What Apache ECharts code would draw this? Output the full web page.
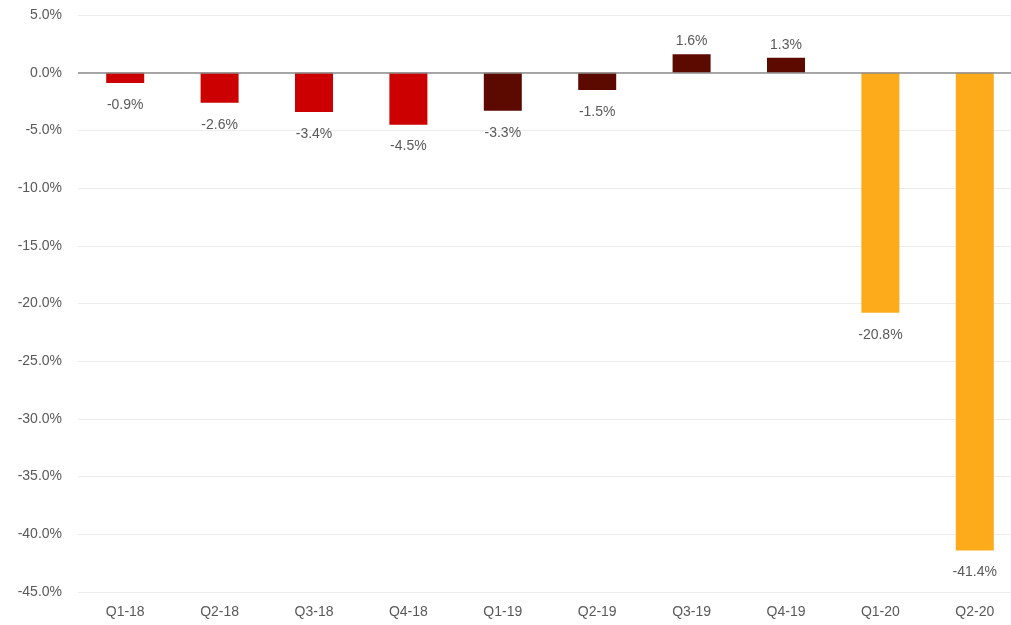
<!DOCTYPE html>
<html>
<head>
<meta charset="utf-8">
<script src="https://cdn.jsdelivr.net/npm/echarts@6/dist/echarts.min.js"></script>
<style>html,body{margin:0;padding:0;background:#fff}#c{width:1011px;height:625px}</style>
</head>
<body>
<div id="c"></div>
<script>
const categories = ['Q1-18','Q2-18','Q3-18','Q4-18','Q1-19','Q2-19','Q3-19','Q4-19','Q1-20','Q2-20'];
const values = [-0.9,-2.6,-3.4,-4.5,-3.3,-1.5,1.6,1.3,-20.8,-41.4];
const barColors = ['#cc0000','#cc0000','#cc0000','#cc0000','#5c0a00','#5c0a00','#5c0a00','#5c0a00','#fdab1a','#fdab1a'];

const chart = echarts.init(document.getElementById('c'), null, {renderer:'canvas'});
chart.setOption({
  animation:false,
  grid:{left:78, top:15, right:-11, bottom:33, containLabel:false, outerBoundsMode:'none'},
  xAxis:{
    type:'category', data:categories, position:'bottom',
    axisLine:{show:false}, axisTick:{show:false},
    axisLabel:{color:'#595959', fontSize:14, fontFamily:'Liberation Sans, Arial', margin:13}
  },
  yAxis:{
    type:'value', min:-45, max:5, interval:5,
    axisLine:{show:false}, axisTick:{show:false},
    splitLine:{lineStyle:{color:'#ececec', width:1}},
    axisLabel:{color:'#595959', fontSize:14, fontFamily:'Liberation Sans, Arial', margin:16,
      formatter:v=>v.toFixed(1)+'%'}
  },
  series:[{
    type:'bar', barWidth:38,
    data:values.map((v,i)=>({value:v, itemStyle:{color:barColors[i]},
      label:{position: v>=0?'top':'bottom', distance: v>=0?6:15}})),
    label:{show:true, color:'#595959', fontSize:14, fontFamily:'Liberation Sans, Arial',
      formatter:p=>p.value.toFixed(1)+'%'},
    markLine:{silent:true, symbol:'none', label:{show:false},
      lineStyle:{color:'#8c8c8c', width:1.5, type:'solid'},
      data:[{yAxis:0}]}
  }]
});
</script>
</body>
</html>
